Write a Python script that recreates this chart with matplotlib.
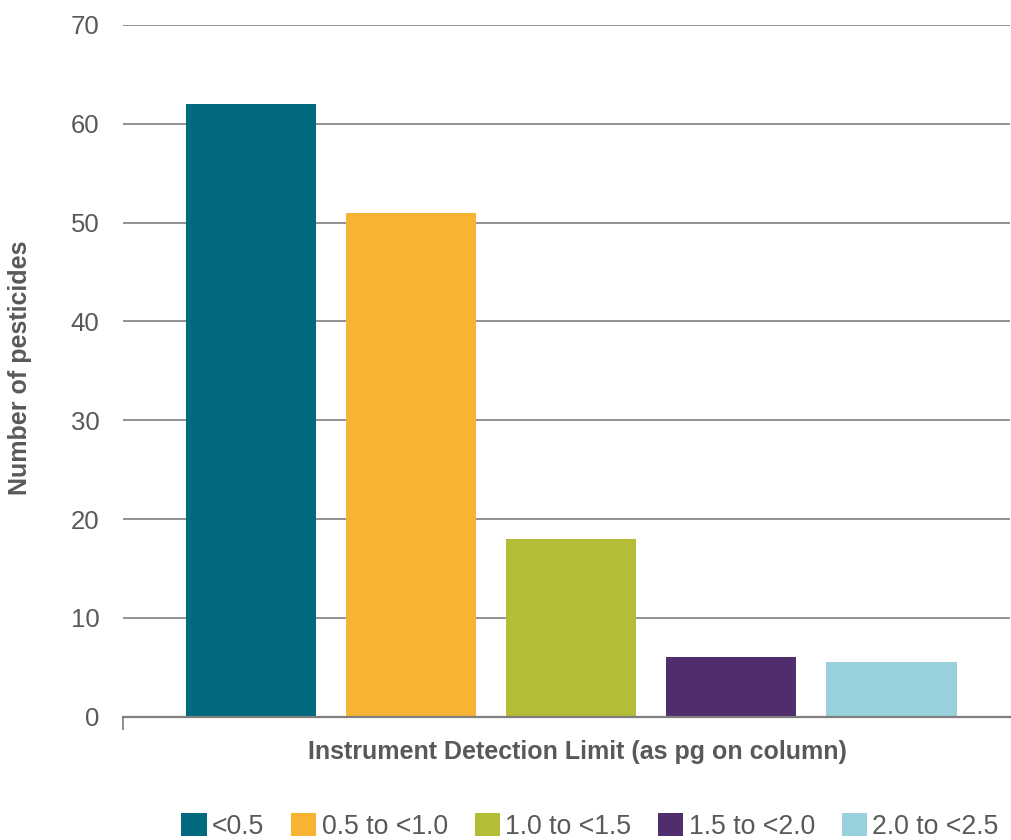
import matplotlib
matplotlib.use("Agg")
import matplotlib.pyplot as plt
from matplotlib.patches import Patch

# Pesticide counts per instrument detection limit range (pg on column)
categories = ["<0.5", "0.5 to <1.0", "1.0 to <1.5", "1.5 to <2.0", "2.0 to <2.5"]
counts = [62, 51, 18, 6, 5.5]
colors = ["#016a7e", "#f8b332", "#b4bd35", "#502d6c", "#98d1dc"]
y_ticks = [0, 10, 20, 30, 40, 50, 60, 70]

plt.rcParams["font.family"] = ["Liberation Sans", "DejaVu Sans"]
text_color = "#595959"
grid_color = "#7f7f7f"

fig = plt.figure(figsize=(10.11, 8.4), dpi=100)
ax = fig.add_axes([123 / 1011, 123.3 / 840, 887 / 1011, 691.7 / 840])

x = list(range(len(categories)))
ax.bar(x, counts, width=0.8125, color=colors, zorder=3)

ax.set_ylim(0, 70)
ax.set_xlim(-0.8, 4.74)
ax.set_yticks(y_ticks)
ax.set_yticklabels([str(t) for t in y_ticks], fontsize=18.5, color=text_color)
ax.tick_params(axis="y", length=0, pad=17)
ax.yaxis.grid(True, color=grid_color, linewidth=1.2, zorder=0)

ax.set_xticks([-0.8])
ax.set_xticklabels([""])
ax.tick_params(axis="x", length=9.5, width=1.2, color=grid_color, direction="out")

for side in ("left", "right", "top"):
    ax.spines[side].set_visible(False)
ax.spines["bottom"].set_color(grid_color)
ax.spines["bottom"].set_linewidth(1.6)
ax.spines["bottom"].set_zorder(4)

fig.text(20 / 1011, (840 - 368) / 840, "Number of pesticides", rotation=90,
         ha="center", va="center", fontsize=18, fontweight="bold", color=text_color)
fig.text(577 / 1011, (840 - 752) / 840, "Instrument Detection Limit (as pg on column)",
         ha="center", va="center", fontsize=18, fontweight="bold", color=text_color)

handles = [Patch(facecolor=c, edgecolor="none") for c in colors]
fig.legend(handles, categories, loc="center", bbox_to_anchor=(590 / 1011, 13.5 / 840),
           ncol=5, frameon=False, fontsize=19.2, labelcolor=text_color,
           handlelength=0.95, handleheight=0.95, handletextpad=0.2,
           columnspacing=1.0, borderpad=0, borderaxespad=0)

fig.savefig("out.png", dpi=100)
